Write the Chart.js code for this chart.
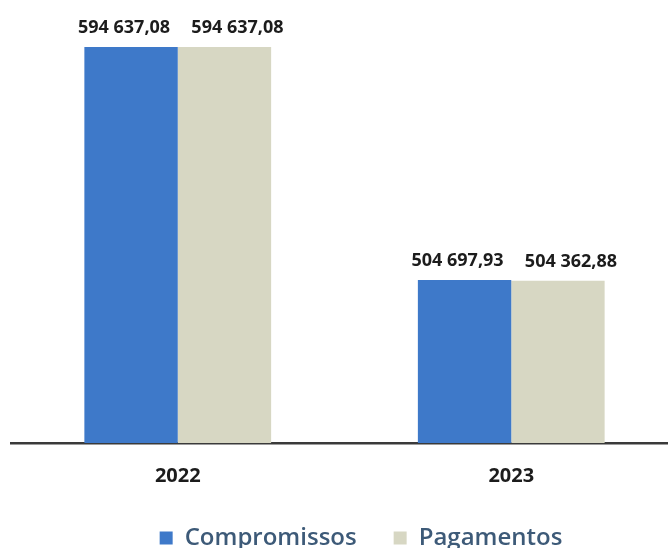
<!DOCTYPE html>
<html>
<head>
<meta charset="utf-8">
<script src="https://cdn.jsdelivr.net/npm/chart.js@4/dist/chart.umd.min.js"></script>
<style>
  html, body { margin: 0; padding: 0; background: #fff; overflow: hidden; }
  #wrap { width: 713px; height: 560px; }
</style>
</head>
<body>
<div id="wrap"><canvas id="chart"></canvas></div>
<script>
const years = ['2022', '2023'];
const compromissos = [594637.08, 504697.93];
const pagamentos = [594637.08, 504362.88];

const color_blue = '#3e79c9';
const color_beige = '#d7d7c3';
const fontFamily = '"Open Sans", "DejaVu Sans", sans-serif';

// 594637.08 -> "594 637,08"
function formatValue(v) {
    const parts = v.toFixed(2).split('.');
    const int = parts[0].replace(/\B(?=(\d{3})+(?!\d))/g, ' ');
    return int + ',' + parts[1];
}

// value above each bar, nudged apart a little so neighbouring labels don't touch
const labelShift = [-7, 13];

const valueLabels = {
    id: 'valueLabels',
    afterDatasetsDraw(chart) {
        const ctx = chart.ctx;
        ctx.save();
        ctx.font = 'bold 18px ' + fontFamily;
        ctx.fillStyle = '#1c1c1c';
        ctx.textAlign = 'center';
        ctx.textBaseline = 'alphabetic';
        chart.data.datasets.forEach((ds, i) => {
            const meta = chart.getDatasetMeta(i);
            meta.data.forEach((bar, j) => {
                ctx.fillText(formatValue(ds.data[j]), bar.x + labelShift[i], bar.y - 14);
            });
        });
        ctx.restore();
    },
};

new Chart(document.getElementById('chart'), {
    type: 'bar',
    data: {
        labels: years,
        datasets: [
            {
                label: 'Compromissos',
                data: compromissos,
                backgroundColor: color_blue,
            },
            {
                label: 'Pagamentos',
                data: pagamentos,
                backgroundColor: color_beige,
            },
        ],
    },
    options: {
        responsive: true,
        maintainAspectRatio: false,
        animation: false,
        categoryPercentage: 0.56,
        barPercentage: 1.0,
        layout: {
            padding: { left: 11, right: 2, top: 40, bottom: 0 },
        },
        scales: {
            x: {
                offset: true,
                grid: { display: false, drawTicks: false },
                border: { display: true, color: '#3a3a3a', width: 2.5 },
                ticks: {
                    color: '#1c1c1c',
                    padding: 23,
                    font: { family: fontFamily, size: 20, weight: 'bold', lineHeight: 1 },
                },
                afterFit: (scale) => { scale.height = 46; },
            },
            // invisible axis, only keeps the plot clear of the cropped right edge
            y: {
                position: 'right',
                min: 441800,
                max: 597300,
                grid: { display: false, drawTicks: false },
                border: { display: false },
                ticks: { display: false },
                afterFit: (scale) => { scale.width = 33; },
            },
        },
        plugins: {
            tooltip: { enabled: false },
            legend: {
                position: 'bottom',
                labels: {
                    color: '#3d5a78',
                    boxWidth: 13,
                    boxHeight: 13,
                    padding: 37,
                    font: { family: fontFamily, size: 24, weight: '600' },
                },
            },
        },
    },
    plugins: [valueLabels],
});
</script>
</body>
</html>
